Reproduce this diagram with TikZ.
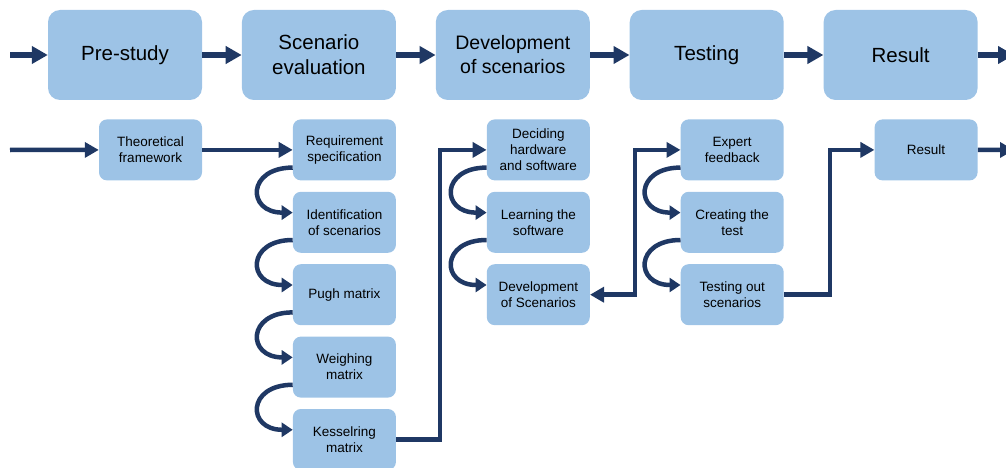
\documentclass[tikz,border=0pt]{standalone}
\usepackage{fontspec}
\setmainfont{Liberation Sans}
\usetikzlibrary{arrows.meta,positioning}
\definecolor{boxblue}{RGB}{157,195,230}
\definecolor{navy}{RGB}{31,56,100}

\begin{document}
\begin{tikzpicture}[x=1pt, y=-1pt,
  node distance=11pt and 39.5pt,
  phase/.style={fill=boxblue, rounded corners=12pt, align=center, inner sep=0pt,
                minimum width=154pt, minimum height=90pt,
                font=\fontsize{20.5}{25}\selectfont},
  task/.style={fill=boxblue, rounded corners=8pt, align=center, inner sep=0pt,
               minimum width=103pt, minimum height=61pt,
               font=\fontsize{13.5}{16}\selectfont},
  bigarr/.style={->, >={Triangle[length=16pt,width=17pt]}, line width=5.5pt, draw=navy},
  arr/.style={->, >={Triangle[length=14pt,width=15pt]}, line width=4.5pt, draw=navy},
  curl/.style={->, >={Triangle[length=11pt,width=14pt]}, line width=4.5pt, draw=navy}]
  \useasboundingbox (0,0) rectangle (1006,468);

  % phases
  \node[phase] (pre) at (125,55) {Pre-study};
  \node[phase, right=of pre] (scen) {Scenario\\evaluation};
  \node[phase, right=of scen, font=\fontsize{19.5}{24}\selectfont] (devel) {Development\\of scenarios};
  \node[phase, right=of devel] (test) {Testing};
  \node[phase, right=of test] (res) {Result};

  % tasks under each phase
  \node[task, below=19pt of pre.south east, anchor=north east] (theo) {Theoretical\\framework};
  \node[task, below=19pt of scen.south east, anchor=north east] (req) {Requirement\\specification};
  \node[task, below=of req] (ident) {Identification\\of scenarios};
  \node[task, below=of ident] (pugh) {Pugh matrix};
  \node[task, below=of pugh] (weigh) {Weighing\\matrix};
  \node[task, below=of weigh] (kess) {Kesselring\\matrix};
  \node[task, below=19pt of devel.south east, anchor=north east] (dec) {Deciding\\hardware\\and software};
  \node[task, below=of dec] (learn) {Learning the\\software};
  \node[task, below=of learn] (devs) {Development\\of Scenarios};
  \node[task, below=19pt of test.south east, anchor=north east] (expert) {Expert\\feedback};
  \node[task, below=of expert] (create) {Creating the\\test};
  \node[task, below=of create] (testout) {Testing out\\scenarios};
  \node[task, below=19pt of res.south east, anchor=north east] (outcome) {Result};

  \coordinate (in1) at (10,55);
  \coordinate (out1) at (1014,55);
  \coordinate (in2) at (10,150);
  \coordinate (out2) at (1014,150);

  \draw[bigarr] (in1) -- (pre);
  \draw[bigarr] (pre) -- (scen);
  \draw[bigarr] (scen) -- (devel);
  \draw[bigarr] (devel) -- (test);
  \draw[bigarr] (test) -- (res);
  \draw[bigarr] (res) -- (out1);

  \draw[arr] (in2) -- (theo);
  \draw[arr] (theo) -- (req);
  \foreach \a/\b in {req/ident, ident/pugh, pugh/weigh, weigh/kess,
                     dec/learn, learn/devs, expert/create, create/testout}
    \draw[curl] ([yshift=13pt]\a.south west) .. controls +(-46,0) and +(-46,0) .. ([yshift=-21pt]\b.north west);
  \draw[arr] (kess.east) -- ++(44,0) |- (dec.west);
  \draw[arr, <->] (devs.east) -- ++(45,0) |- (expert.west);
  \draw[arr] (testout.east) -- ++(46,0) |- (outcome.west);
  \draw[arr] (outcome) -- (out2);
\end{tikzpicture}
\end{document}
